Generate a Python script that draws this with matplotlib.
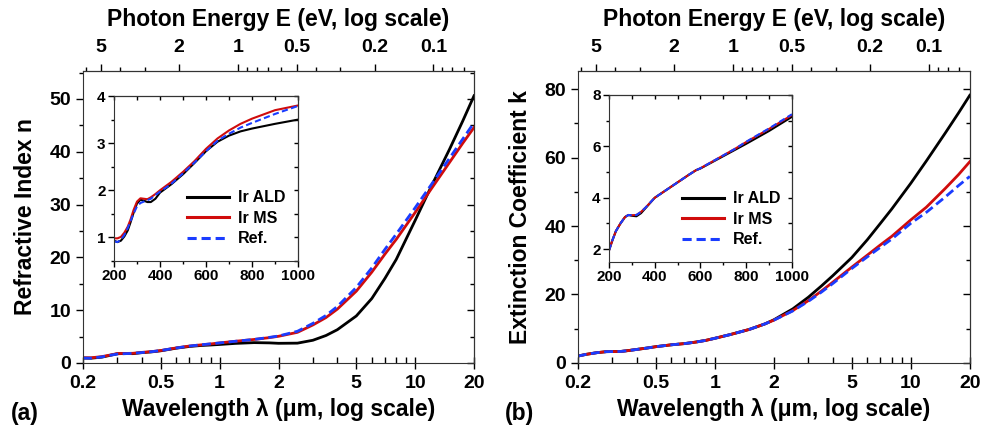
import matplotlib.pyplot as plt
import numpy as np
from matplotlib import rcParams
from matplotlib.ticker import LogLocator, NullFormatter, MultipleLocator

rcParams['font.family'] = 'Liberation Sans'
rcParams['font.weight'] = 'bold'
rcParams['axes.labelweight'] = 'bold'

# Main panels: wavelength in um
lam = [0.2, 0.22, 0.25, 0.28, 0.3, 0.33, 0.36, 0.4, 0.45, 0.5, 0.6, 0.7, 0.8, 0.9, 1.0,
       1.2, 1.5, 1.8, 2.0, 2.5, 3.0, 3.5, 4.0, 5.0, 6.0, 7.0, 8.0, 10.0, 12.0, 15.0, 17.5, 20.0]

n_ald = [0.93, 0.9, 1.1, 1.5, 1.75, 1.78, 1.76, 1.95, 2.1, 2.3, 2.8, 3.12, 3.3, 3.4, 3.5,
         3.7, 3.85, 3.8, 3.72, 3.75, 4.3, 5.2, 6.3, 8.9, 12.2, 16.0, 19.6, 27.0, 33.2, 40.5, 45.8, 50.6]
n_ms = [0.97, 0.98, 1.2, 1.55, 1.78, 1.8, 1.83, 2.0, 2.15, 2.35, 2.85, 3.2, 3.42, 3.6, 3.8,
        4.1, 4.45, 4.8, 5.05, 5.8, 7.2, 8.6, 10.2, 13.6, 17.2, 20.6, 23.4, 28.5, 32.8, 38.0, 41.6, 44.6]
n_ref = [0.92, 0.9, 1.15, 1.5, 1.68, 1.76, 1.82, 1.97, 2.14, 2.36, 2.83, 3.2, 3.43, 3.62, 3.79,
         4.1, 4.45, 4.85, 5.1, 6.0, 7.5, 9.0, 10.7, 14.3, 18.0, 21.5, 24.4, 29.4, 33.6, 38.8, 42.4, 45.5]

k_ald = [2.0, 2.5, 3.0, 3.3, 3.32, 3.35, 3.6, 3.95, 4.35, 4.75, 5.3, 5.65, 6.1, 6.6, 7.2,
         8.3, 9.8, 11.4, 12.6, 15.8, 19.2, 22.5, 25.5, 30.8, 36.0, 40.8, 45.0, 52.5, 59.0, 67.2, 73.0, 78.2]
k_ms = [2.0, 2.5, 3.0, 3.3, 3.32, 3.35, 3.6, 3.95, 4.35, 4.75, 5.3, 5.65, 6.1, 6.6, 7.2,
        8.3, 9.8, 11.4, 12.5, 15.3, 18.2, 21.0, 23.6, 28.0, 31.5, 34.5, 37.0, 41.8, 45.5, 51.0, 55.0, 58.8]
k_ref = [2.0, 2.5, 3.0, 3.3, 3.32, 3.35, 3.6, 3.95, 4.35, 4.75, 5.3, 5.65, 6.1, 6.6, 7.2,
         8.3, 9.8, 11.4, 12.5, 15.2, 18.0, 20.7, 23.2, 27.6, 31.0, 33.8, 36.2, 40.8, 44.0, 48.5, 51.8, 54.5]

# Insets: wavelength in nm
wl_n = [200, 215, 230, 245, 260, 272, 285, 300, 315, 330, 345, 360, 380, 400, 450, 500,
        550, 600, 650, 700, 750, 800, 900, 1000]
ins_n_ald = [0.93, 0.9, 0.93, 1.02, 1.15, 1.32, 1.52, 1.72, 1.8, 1.78, 1.75, 1.75, 1.82, 1.95,
             2.13, 2.34, 2.58, 2.83, 3.03, 3.16, 3.25, 3.31, 3.41, 3.50]
ins_n_ms = [0.98, 0.98, 1.01, 1.1, 1.23, 1.38, 1.58, 1.76, 1.83, 1.82, 1.81, 1.85, 1.92, 2.0,
            2.18, 2.39, 2.62, 2.88, 3.1, 3.27, 3.41, 3.52, 3.70, 3.80]
ins_n_ref = [0.92, 0.9, 0.95, 1.05, 1.2, 1.35, 1.5, 1.66, 1.73, 1.76, 1.79, 1.82, 1.9, 1.97,
             2.14, 2.36, 2.59, 2.83, 3.05, 3.2, 3.33, 3.43, 3.62, 3.79]

wl_k = [200, 215, 230, 250, 270, 285, 300, 320, 340, 360, 400, 450, 500, 550, 580, 600,
        650, 700, 750, 800, 900, 1000]
ins_k_ald = [1.95, 2.35, 2.7, 3.0, 3.25, 3.33, 3.3, 3.28, 3.4, 3.6, 4.0, 4.3, 4.6, 4.9, 5.07,
             5.14, 5.38, 5.62, 5.86, 6.1, 6.6, 7.15]
ins_k_ms = [1.95, 2.35, 2.7, 3.0, 3.25, 3.33, 3.32, 3.33, 3.45, 3.62, 4.0, 4.3, 4.6, 4.9, 5.07,
            5.15, 5.4, 5.65, 5.9, 6.17, 6.68, 7.22]
ins_k_ref = [1.95, 2.35, 2.7, 3.0, 3.25, 3.33, 3.32, 3.33, 3.45, 3.62, 4.0, 4.3, 4.6, 4.9, 5.07,
             5.15, 5.4, 5.65, 5.9, 6.18, 6.7, 7.25]

c_ald = 'black'
c_ms = '#d00c0c'
c_ref = '#1a3cff'
dash = (0, (3.2, 1.6))

fig = plt.figure(figsize=(9.81, 4.25), dpi=100)

def e_of_lam(x):
    x = np.asarray(x, dtype=float)
    with np.errstate(divide='ignore'):
        return 1.24 / x

def main_panel(rect, y_ald, y_ms, y_ref, ylim, ymajor, yminor, ylabel, tag):
    ax = fig.add_axes(rect)
    ax.plot(lam, y_ald, color=c_ald, lw=2.0)
    ax.plot(lam, y_ms, color=c_ms, lw=2.0)
    ax.plot(lam, y_ref, color=c_ref, lw=2.0, linestyle=dash)
    ax.set_xscale('log')
    ax.set_xlim(0.2, 20)
    ax.set_ylim(*ylim)
    ax.set_xticks([0.2, 0.5, 1, 2, 5, 10, 20], ['0.2', '0.5', '1', '2', '5', '10', '20'])
    ax.xaxis.set_minor_locator(LogLocator(subs=np.arange(2, 10)))
    ax.xaxis.set_minor_formatter(NullFormatter())
    ax.yaxis.set_major_locator(MultipleLocator(ymajor))
    ax.yaxis.set_minor_locator(MultipleLocator(yminor))
    ax.tick_params(axis='x', which='major', direction='inout', length=8, width=1, labelsize=14, pad=5)
    ax.tick_params(axis='x', which='minor', direction='in', length=4, width=1)
    ax.tick_params(axis='y', which='major', direction='out', length=5, width=1, labelsize=14)
    ax.tick_params(axis='y', which='minor', direction='out', length=3, width=1)
    ax.set_xlabel('Wavelength λ (μm, log scale)', fontsize=16.5, labelpad=4)
    ax.set_ylabel(ylabel, fontsize=16.5, labelpad=9)
    for s in ax.spines.values():
        s.set_color('#333333')

    right = ax.secondary_yaxis('right')
    right.yaxis.set_major_locator(MultipleLocator(ymajor))
    right.yaxis.set_minor_locator(MultipleLocator(yminor))
    right.tick_params(which='major', direction='in', length=5, width=1, labelright=False)
    right.tick_params(which='minor', direction='in', length=3, width=1)

    top = ax.secondary_xaxis('top', functions=(e_of_lam, e_of_lam))
    top.set_xticks([5, 2, 1, 0.5, 0.2, 0.1], ['5', '2', '1', '0.5', '0.2', '0.1'])
    top.xaxis.set_minor_locator(LogLocator(subs=np.arange(2, 10)))
    top.xaxis.set_minor_formatter(NullFormatter())
    top.tick_params(which='major', direction='out', length=5, width=1, labelsize=14, pad=6)
    top.tick_params(which='minor', direction='out', length=3, width=1)
    top.set_xlabel('Photon Energy E (eV, log scale)', fontsize=16.5, labelpad=9)
    fig.text(rect[0] - 0.074, 0.012, tag, fontsize=16.5, fontweight='bold')
    return ax

def inset(rect, x, y_ald, y_ms, y_ref, ylim, ymajor, yminor, legend_anchor):
    ax = fig.add_axes(rect)
    ax.plot(x, y_ald, color=c_ald, lw=1.5, label='Ir ALD')
    ax.plot(x, y_ms, color=c_ms, lw=1.5, label='Ir MS')
    ax.plot(x, y_ref, color=c_ref, lw=1.5, linestyle=(0, (3, 1.6)), label='Ref.')
    ax.set_xlim(200, 1000)
    ax.set_ylim(*ylim)
    ax.xaxis.set_major_locator(MultipleLocator(200))
    ax.xaxis.set_minor_locator(MultipleLocator(100))
    ax.yaxis.set_major_locator(MultipleLocator(ymajor))
    ax.yaxis.set_minor_locator(MultipleLocator(yminor))
    ax.tick_params(which='major', direction='out', length=4, width=1, labelsize=11, pad=2)
    ax.tick_params(which='minor', direction='out', length=2.5, width=1)
    for s in ax.spines.values():
        s.set_color('#333333')
    r = ax.secondary_yaxis('right')
    r.yaxis.set_major_locator(MultipleLocator(ymajor))
    r.yaxis.set_minor_locator(MultipleLocator(yminor))
    r.tick_params(which='both', direction='in', length=3, width=1, labelright=False)
    t = ax.secondary_xaxis('top')
    t.xaxis.set_major_locator(MultipleLocator(200))
    t.xaxis.set_minor_locator(MultipleLocator(100))
    t.tick_params(which='both', direction='in', length=3, width=1, labeltop=False)
    leg = ax.legend(loc='lower right', bbox_to_anchor=legend_anchor, frameon=False,
                    fontsize=11.5, handlelength=2.6, labelspacing=0.35, handletextpad=0.55,
                    borderaxespad=0)
    for line in leg.get_lines():
        line.set_linewidth(2.2)
    return ax

main_panel([0.0846, 0.146, 0.3986, 0.687], n_ald, n_ms, n_ref, (0, 55.3), 10, 5,
           'Refractive Index n', '(a)')
main_panel([0.589, 0.146, 0.3996, 0.687], k_ald, k_ms, k_ref, (0, 85.3), 20, 10,
           'Extinction Coefficient k', '(b)')

inset([0.1162, 0.386, 0.1876, 0.388], wl_n, ins_n_ald, ins_n_ms, ins_n_ref,
      (0.5, 4), 1, 0.5, (0.965, 0.05))
inset([0.6208, 0.3835, 0.1865, 0.393], wl_k, ins_k_ald, ins_k_ms, ins_k_ref,
      (1.5, 8), 2, 1, (0.97, 0.05))

fig.savefig('out.png', dpi=100)
